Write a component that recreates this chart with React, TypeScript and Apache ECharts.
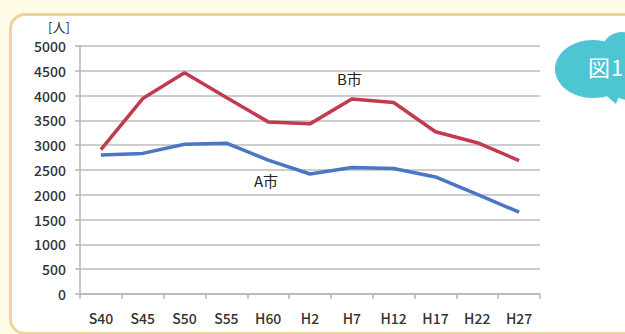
import React, { useEffect, useRef } from "react";
import * as echarts from "echarts";

const categories = ["S40", "S45", "S50", "S55", "H60", "H2", "H7", "H12", "H17", "H22", "H27"];
const cityB = [2910, 3940, 4460, 3960, 3470, 3430, 3930, 3860, 3270, 3050, 2690];
const cityA = [2800, 2835, 3020, 3040, 2700, 2420, 2550, 2530, 2360, 2010, 1650];
const FONT = "'Noto Sans CJK JP', 'Noto Sans', sans-serif";

export default function App() {
  const ref = useRef<HTMLDivElement>(null);
  useEffect(() => {
    if (!ref.current) return;
    const chart = echarts.init(ref.current, undefined, { renderer: "svg" });
    chart.setOption({
      animation: false,
      backgroundColor: "transparent",
      textStyle: { fontFamily: FONT },
      grid: { left: 80, right: 85, top: 46, bottom: 40 },
      xAxis: {
        type: "category",
        data: categories,
        boundaryGap: true,
        axisLine: { lineStyle: { color: "#b5b5b5", width: 1.5 } },
        axisTick: { show: true, length: 5, inside: false, lineStyle: { color: "#b5b5b5", width: 1.5 } },
        axisLabel: { color: "#333", fontSize: 14, margin: 17, fontFamily: FONT, fontWeight: 500 },
      },
      yAxis: {
        type: "value",
        min: 0,
        max: 5000,
        interval: 500,
        axisLine: { show: true, lineStyle: { color: "#b5b5b5", width: 1.5 } },
        axisTick: { show: true, length: 5, lineStyle: { color: "#b5b5b5", width: 1.5 } },
        axisLabel: {
          color: "#333",
          fontSize: 14,
          margin: 14,
          fontFamily: FONT,
          fontWeight: 500,
          formatter: (v: number) => String(v),
        },
        splitLine: { lineStyle: { color: "#bdbdbd", width: 1.5 } },
      },
      series: [
        {
          name: "B市",
          type: "line",
          data: cityB,
          showSymbol: false,
          symbol: "none",
          lineStyle: { color: "#c23a4e", width: 3.5 },
          z: 3,
        },
        {
          name: "A市",
          type: "line",
          data: cityA,
          showSymbol: false,
          symbol: "none",
          lineStyle: { color: "#4a76c6", width: 3.5 },
          z: 3,
        },
      ],
      graphic: [
        { type: "text", x: 48, y: 20, style: { text: "[人]", fontSize: 13, fill: "#333", fontFamily: FONT } },
        { type: "text", x: 337, y: 71, style: { text: "B市", fontSize: 15, fill: "#222", fontFamily: FONT } },
        { type: "text", x: 254, y: 173, style: { text: "A市", fontSize: 15, fill: "#222", fontFamily: FONT } },
        {
          type: "group",
          children: [
            { type: "ellipse", shape: { cx: 593, cy: 69, rx: 38, ry: 29 }, style: { fill: "#4ec5d3" } },
            { type: "circle", shape: { cx: 622, cy: 53, r: 21 }, style: { fill: "#4ec5d3" } },
            { type: "circle", shape: { cx: 628, cy: 80, r: 20 }, style: { fill: "#4ec5d3" } },
            { type: "polygon", shape: { points: [[602, 92], [616, 104], [622, 88]] }, style: { fill: "#4ec5d3" } },
            { type: "text", x: 588, y: 55, style: { text: "図", fontSize: 22, fill: "#ffffff", fontFamily: FONT } },
            { type: "text", x: 611, y: 55, style: { text: "1", fontSize: 22, fill: "#ffffff", fontFamily: FONT } },
          ],
        },
      ],
    });
    return () => chart.dispose();
  }, []);
  return (
    <div style={{ position: "fixed", left: 0, top: 0, width: 625, height: 334, background: "#fffbe6", overflow: "hidden" }}>
      <div
        style={{
          position: "absolute",
          left: 9,
          top: 13,
          width: 700,
          height: 316,
          background: "#ffffff",
          border: "3px solid #ecd39a",
          borderRadius: 16,
        }}
      />
      <div ref={ref} style={{ position: "absolute", left: 0, top: 0, width: 625, height: 334 }} />
    </div>
  );
}
